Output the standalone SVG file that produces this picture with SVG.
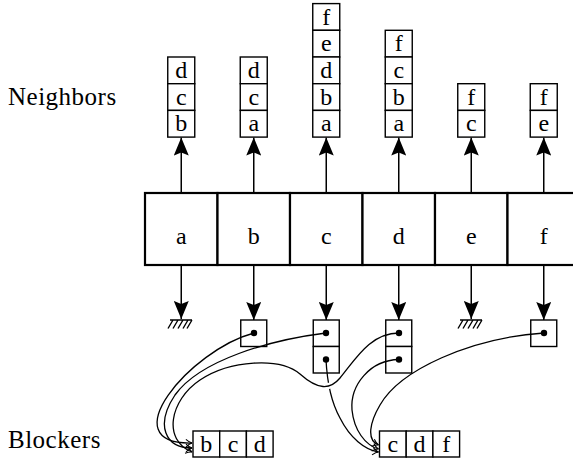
<svg xmlns="http://www.w3.org/2000/svg" width="573" height="465" viewBox="0 0 573 465">
<defs>
<style>
text{font-family:"Liberation Serif","Times New Roman",serif;font-size:24px;fill:#000;text-anchor:middle}
.lbl{text-anchor:start;font-size:25px;letter-spacing:0.5px}
.cell{fill:#fff;stroke:#000;stroke-width:2.2}
.box{fill:#fff;stroke:#000;stroke-width:1.4}
.arr{stroke:#000;stroke-width:1.5;fill:none}
.cur{stroke:#000;stroke-width:1.3;fill:none}
.hat{stroke:#000;stroke-width:1.4;fill:none}
</style>
<marker id="big" viewBox="0 0 18 15" refX="18" refY="7.5" markerWidth="18" markerHeight="15" markerUnits="userSpaceOnUse" orient="auto">
<path d="M0,0 L18,7.5 L0,15 L3,7.5 z" fill="#000"/>
</marker>
<marker id="sm" viewBox="-8 -5 9 10" refX="0" refY="0" markerWidth="9" markerHeight="10" markerUnits="userSpaceOnUse" orient="auto">
<path d="M-6,-3.8 Q-2.5,-0.6 0,0 Q-2.5,0.6 -6,3.8" fill="none" stroke="#000" stroke-width="1.1"/>
</marker>
</defs>
<rect width="573" height="465" fill="#fff"/>
<text class="lbl" x="8" y="105">Neighbors</text>
<text class="lbl" x="8" y="448">Blockers</text>

<g id="connectors">
<line class="arr" x1="181.25" y1="193" x2="181.25" y2="137.5" marker-end="url(#big)"/>
<line class="arr" x1="253.75" y1="193" x2="253.75" y2="137.5" marker-end="url(#big)"/>
<line class="arr" x1="326.25" y1="193" x2="326.25" y2="137.5" marker-end="url(#big)"/>
<line class="arr" x1="398.75" y1="193" x2="398.75" y2="137.5" marker-end="url(#big)"/>
<line class="arr" x1="471.25" y1="193" x2="471.25" y2="137.5" marker-end="url(#big)"/>
<line class="arr" x1="543.75" y1="193" x2="543.75" y2="137.5" marker-end="url(#big)"/>
<line class="arr" x1="181.25" y1="265" x2="181.25" y2="319" marker-end="url(#big)"/>
<line class="arr" x1="253.75" y1="265" x2="253.75" y2="320" marker-end="url(#big)"/>
<line class="arr" x1="326.25" y1="265" x2="326.25" y2="320" marker-end="url(#big)"/>
<line class="arr" x1="398.75" y1="265" x2="398.75" y2="320" marker-end="url(#big)"/>
<line class="arr" x1="471.25" y1="265" x2="471.25" y2="319" marker-end="url(#big)"/>
<line class="arr" x1="543.75" y1="265" x2="543.75" y2="320" marker-end="url(#big)"/>
</g>

<g id="main-row">
<rect class="cell" x="145" y="193" width="72.5" height="72"/>
<rect class="cell" x="217.5" y="193" width="72.5" height="72"/>
<rect class="cell" x="290" y="193" width="72.5" height="72"/>
<rect class="cell" x="362.5" y="193" width="72.5" height="72"/>
<rect class="cell" x="435" y="193" width="72.5" height="72"/>
<rect class="cell" x="507.5" y="193" width="72.5" height="72"/>
<text x="181.25" y="244">a</text>
<text x="253.75" y="244">b</text>
<text x="326.25" y="244">c</text>
<text x="398.75" y="244">d</text>
<text x="471.25" y="244">e</text>
<text x="543.75" y="244">f</text>
</g>

<g id="nb-a">
<rect class="box" x="167.75" y="57" width="27" height="26.7"/>
<rect class="box" x="167.75" y="83.7" width="27" height="26.7"/>
<rect class="box" x="167.75" y="110.4" width="27" height="26.7"/>
<text x="181.25" y="78">d</text><text x="181.25" y="104.7">c</text><text x="181.25" y="131.4">b</text>
</g>
<g id="nb-b">
<rect class="box" x="240.25" y="57" width="27" height="26.7"/>
<rect class="box" x="240.25" y="83.7" width="27" height="26.7"/>
<rect class="box" x="240.25" y="110.4" width="27" height="26.7"/>
<text x="253.75" y="78">d</text><text x="253.75" y="104.7">c</text><text x="253.75" y="131.4">a</text>
</g>
<g id="nb-c">
<rect class="box" x="312.75" y="3.6" width="27" height="26.7"/>
<rect class="box" x="312.75" y="30.3" width="27" height="26.7"/>
<rect class="box" x="312.75" y="57" width="27" height="26.7"/>
<rect class="box" x="312.75" y="83.7" width="27" height="26.7"/>
<rect class="box" x="312.75" y="110.4" width="27" height="26.7"/>
<text x="326.25" y="24.6">f</text><text x="326.25" y="51.3">e</text><text x="326.25" y="78">d</text><text x="326.25" y="104.7">b</text><text x="326.25" y="131.4">a</text>
</g>
<g id="nb-d">
<rect class="box" x="385.25" y="30.3" width="27" height="26.7"/>
<rect class="box" x="385.25" y="57" width="27" height="26.7"/>
<rect class="box" x="385.25" y="83.7" width="27" height="26.7"/>
<rect class="box" x="385.25" y="110.4" width="27" height="26.7"/>
<text x="398.75" y="51.3">f</text><text x="398.75" y="78">c</text><text x="398.75" y="104.7">b</text><text x="398.75" y="131.4">a</text>
</g>
<g id="nb-e">
<rect class="box" x="457.75" y="83.7" width="27" height="26.7"/>
<rect class="box" x="457.75" y="110.4" width="27" height="26.7"/>
<text x="471.25" y="104.7">f</text><text x="471.25" y="131.4">c</text>
</g>
<g id="nb-f">
<rect class="box" x="530.25" y="83.7" width="27" height="26.7"/>
<rect class="box" x="530.25" y="110.4" width="27" height="26.7"/>
<text x="543.75" y="104.7">f</text><text x="543.75" y="131.4">e</text>
</g>

<g id="ground-a">
<path class="hat" d="M170,320 H192 M173,320 l-5,8.5 M178,320 l-5,8.5 M183,320 l-5,8.5 M188,320 l-5,8.5 M192,320 l-5,8.5"/>
</g>
<g id="ground-e">
<path class="hat" d="M460,320 H482 M463,320 l-5,8.5 M468,320 l-5,8.5 M473,320 l-5,8.5 M478,320 l-5,8.5 M482,320 l-5,8.5"/>
</g>

<g id="ptr-b">
<rect class="box" x="240.75" y="320" width="26" height="26.5"/>
</g>
<g id="ptr-c">
<rect class="box" x="313.25" y="320" width="26" height="26.5"/>
<rect class="box" x="313.25" y="346.5" width="26" height="26.5"/>
</g>
<g id="ptr-d">
<rect class="box" x="385.75" y="320" width="26" height="26.5"/>
<rect class="box" x="385.75" y="346.5" width="26" height="26.5"/>
</g>
<g id="ptr-f">
<rect class="box" x="530.75" y="320" width="26" height="26.5"/>
</g>

<g id="blk-1">
<rect class="box" x="193" y="431" width="26.7" height="26"/>
<rect class="box" x="219.7" y="431" width="26.7" height="26"/>
<rect class="box" x="246.4" y="431" width="26.7" height="26"/>
<text x="206.3" y="452">b</text><text x="233" y="452">c</text><text x="259.7" y="452">d</text>
</g>
<g id="blk-2">
<rect class="box" x="379.5" y="431" width="26.7" height="26"/>
<rect class="box" x="406.2" y="431" width="26.7" height="26"/>
<rect class="box" x="432.9" y="431" width="26.7" height="26"/>
<text x="392.8" y="452">c</text><text x="419.5" y="452">d</text><text x="446.2" y="452">f</text>
</g>

<g id="pointer-curves">
<path class="cur" d="M254,333 C190,350 110,445 192,443" marker-end="url(#sm)"/>
<path class="cur" d="M326,333 C270,340 200,360 175,395 C155,425 165,448 192,448" marker-end="url(#sm)"/>
<path class="cur" d="M326,359.5 C327,380 330,400 340,418 C350,438 365,450 378.5,452" marker-end="url(#sm)"/>
<path d="M340,378 C330,390 318,390 300,374" fill="none" stroke="#fff" stroke-width="6"/>
<path class="cur" d="M399,333 C370,333 355,360 340,378 C330,390 318,390 300,374 C280,357 230,360 200,380 C170,400 162,440 192,452" marker-end="url(#sm)"/>
<path class="cur" d="M399,359.5 C370,360 350,385 352,410 C354,430 365,445 378.5,449" marker-end="url(#sm)"/>
<path class="cur" d="M544,333 C470,338 400,370 380,405 C370,422 366,440 378.5,445" marker-end="url(#sm)"/>
<circle cx="254" cy="333" r="3.2"/>
<circle cx="326" cy="333" r="3.2"/>
<circle cx="326" cy="359.5" r="3.2"/>
<circle cx="399" cy="333" r="3.2"/>
<circle cx="399" cy="359.5" r="3.2"/>
<circle cx="544" cy="333" r="3.2"/>
</g>
</svg>
